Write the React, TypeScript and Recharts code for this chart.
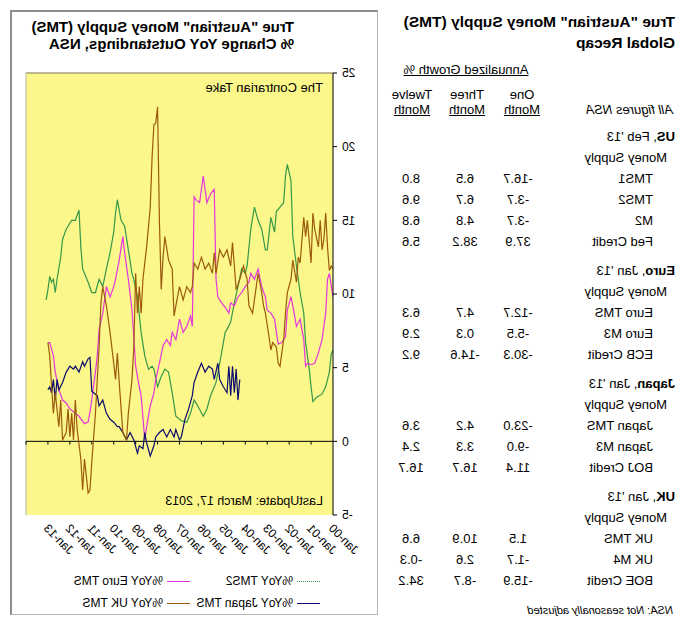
import React from "react";
import { LineChart, Line, XAxis, YAxis, ReferenceLine, CartesianGrid } from "recharts";

const FONT = '"Liberation Sans", Arial, Helvetica, sans-serif';

// ---------- chart data (x = months since Jan-2000) ----------
const yearTicks = [0, 12, 24, 36, 48, 60, 72, 84, 96, 108, 120, 132, 144, 156];
const tickLabels = ["Jan-00", "Jan-01", "Jan-02", "Jan-03", "Jan-04", "Jan-05", "Jan-06", "Jan-07", "Jan-08", "Jan-09", "Jan-10", "Jan-11", "Jan-12", "Jan-13"];
const minorTicks = [12, 24, 36, 48, 60, 72, 84, 96, 108, 120, 132, 144, 156, 168];
const yTicks = [-5, 0, 5, 10, 15, 20, 25];

const usTMS2: [number, number][] = [
  [0, 6.2], [1, 5.9], [2, 4.7], [4, 3.7], [6, 3.2], [9, 3.0], [11, 2.7], [12, 3.7], [13, 4.9], [15, 6.7],
  [16, 8.7], [18, 10.1], [20, 11.9], [22, 13.9], [23, 17.7], [25, 18.8], [26, 18.0], [27, 16.2], [29, 15.9], [31, 15.6],
  [32, 14.2], [34, 15.2], [36, 13.0], [37, 13.0], [39, 14.4], [41, 15.0], [43, 15.9], [45, 14.4], [47, 11.9], [48, 11.4],
  [50, 11.7], [52, 10.5], [54, 9.4], [56, 8.1], [58, 7.6], [59, 7.4], [61, 6.0], [62, 5.3], [64, 4.0], [67, 3.1],
  [69, 2.2], [71, 1.7], [74, 2.4], [76, 2.8], [78, 1.9], [80, 1.3], [83, 1.4], [86, 1.7], [88, 3.3], [90, 4.7],
  [92, 4.9], [94, 4.4], [96, 3.7], [98, 4.9], [99, 5.1], [101, 4.9], [103, 5.8], [105, 7.4], [107, 9.8], [109, 11.0],
  [110, 11.4], [112, 13.0], [114, 14.6], [116, 15.0], [118, 16.4], [119, 15.5], [120, 14.2], [122, 12.8], [124, 11.7], [126, 10.5],
  [128, 11.0], [130, 10.1], [132, 10.1], [134, 10.8], [137, 11.7], [138, 13.2], [139, 15.7], [141, 15.0], [143, 15.0], [144, 14.8],
  [146, 14.4], [148, 13.7], [149, 12.5], [151, 11.0], [152, 10.1], [153, 11.0], [154, 10.8], [155, 11.2], [156, 10.3], [157, 9.6],
];

const euroTMS: [number, number][] = [
  [0, 9.8], [2, 11.4], [3, 11.0], [4, 8.7], [6, 6.9], [8, 6.0], [10, 5.3], [12, 5.2], [14, 5.3], [15, 5.1],
  [16, 6.9], [18, 8.3], [20, 7.8], [22, 9.2], [23, 9.8], [25, 8.9], [26, 7.1], [28, 6.7], [30, 6.6], [32, 8.3],
  [34, 8.7], [36, 8.9], [37, 9.8], [39, 10.5], [41, 11.7], [43, 11.0], [45, 11.4], [46, 10.8], [48, 10.5], [50, 10.1],
  [52, 9.8], [54, 9.2], [56, 9.4], [57, 8.7], [59, 9.1], [61, 9.4], [63, 9.8], [64, 11.0], [65, 17.1], [67, 16.8],
  [69, 16.2], [71, 18.0], [73, 16.2], [75, 16.4], [76, 16.6], [77, 7.8], [78, 8.5], [80, 7.8], [82, 7.4], [84, 8.3],
  [86, 6.9], [88, 7.4], [89, 6.5], [91, 6.9], [93, 6.5], [95, 5.3], [97, 4.2], [98, 3.3], [100, 2.4], [102, 1.0],
  [103, 0.1], [105, 3.1], [106, 3.7], [108, 5.1], [109, 7.1], [110, 8.9], [112, 11.0], [114, 12.8], [115, 13.9], [117, 12.3],
  [119, 11.0], [120, 10.5], [122, 9.8], [124, 10.5], [126, 8.7], [128, 7.6], [129, 5.8], [130, 4.7], [131, 3.8], [132, 2.8],
  [133, 2.0], [134, 1.3], [136, 1.2], [139, 1.7], [141, 1.9], [144, 2.2], [146, 2.6], [148, 2.8], [150, 3.5], [152, 4.7],
  [153, 5.8], [155, 6.7], [156, 6.7],
];

const japanTMS: [number, number][] = [
  [51, 4.2], [52, 2.8], [53, 4.9], [54, 3.3], [55, 5.1], [56, 3.1], [57, 5.1], [58, 3.3], [60, 3.7], [62, 4.2],
  [63, 5.3], [65, 4.2], [66, 4.9], [68, 5.1], [70, 4.7], [72, 5.3], [74, 4.7], [76, 4.0], [77, 3.1], [79, 2.2],
  [81, 1.5], [83, 0.3], [84, 0.1], [86, 0.8], [87, 0.3], [89, 0.8], [91, 0.3], [93, 0.8], [95, 0.6], [97, 0.3],
  [98, -0.3], [100, -1.0], [102, -0.1], [103, 0.6], [104, -0.5], [106, -0.3], [107, -0.8], [109, 0.1], [111, 0.6], [113, 0.1],
  [115, 0.6], [117, 1.0], [118, 1.0], [120, 1.3], [122, 1.5], [124, 1.9], [126, 2.8], [128, 2.4], [129, 3.1], [131, 3.3],
  [132, 3.4], [133, 5.7], [134, 5.6], [136, 5.1], [137, 5.4], [139, 4.7], [141, 5.1], [142, 4.9], [144, 5.1], [146, 4.7],
  [148, 4.0], [150, 3.5], [151, 4.2], [152, 2.8], [153, 4.2], [154, 3.3], [155, 3.7], [156, 3.5],
];

const ukTMS: [number, number][] = [
  [0, 11.7], [1, 11.9], [2, 11.6], [3, 13.2], [4, 15.5], [5, 13.7], [6, 13.0], [7, 15.0], [8, 13.2], [10, 14.4],
  [11, 15.5], [12, 12.1], [14, 15.0], [15, 13.9], [16, 15.2], [18, 12.1], [19, 12.5], [20, 10.8], [22, 12.3], [23, 11.0],
  [25, 10.1], [26, 8.7], [27, 6.9], [29, 5.1], [30, 5.3], [31, 6.4], [33, 6.7], [34, 6.2], [35, 7.1], [37, 8.7],
  [38, 9.2], [39, 10.1], [41, 11.4], [42, 10.5], [44, 8.7], [46, 9.2], [47, 11.0], [49, 11.9], [51, 11.0], [53, 10.3],
  [54, 11.9], [55, 13.5], [56, 11.9], [58, 13.0], [60, 12.5], [62, 13.0], [64, 11.4], [65, 12.8], [66, 11.4], [68, 12.1],
  [70, 11.7], [72, 12.5], [74, 11.7], [76, 12.1], [77, 10.5], [78, 10.1], [80, 10.5], [82, 9.6], [84, 10.5], [86, 9.2],
  [87, 8.5], [88, 11.7], [90, 12.3], [92, 13.9], [93, 12.5], [94, 10.3], [95, 15.0], [96, 22.7], [97, 21.6], [98, 21.5],
  [99, 19.3], [100, 15.9], [102, 13.2], [104, 11.0], [105, 8.7], [106, 10.5], [107, 8.7], [108, 11.4], [109, 6.4], [110, 4.2],
  [112, 1.9], [113, 0.1], [115, 0.6], [117, 4.0], [118, 6.0], [119, 4.2], [120, 5.3], [122, 7.4], [124, 9.2], [126, 10.5],
  [127, 9.4], [128, 6.4], [129, 4.2], [130, 1.9], [132, -1.4], [133, -3.3], [134, -3.5], [136, -1.2], [137, -3.3], [138, -1.2],
  [140, 0.8], [141, 2.8], [142, 0.1], [143, 1.9], [144, 0.3], [145, 2.2], [146, 0.6], [148, 0.1], [149, 2.8], [150, 1.0],
  [152, 3.3], [153, 1.9], [154, 3.7], [155, 5.8], [156, 6.7],
];

const seriesNames = ["%YoY TMS2", "%YoY Euro TMS", "%YoY Japan TMS", "%YoY UK TMS"];
const seriesColors = ["#35984a", "#e436de", "#0a0a6e", "#9c5a0c"];
const seriesData = [usTMS2, euroTMS, japanTMS, ukTMS];

// ---------- table data ----------
const columnHeads = ["One", "Three", "Twelve"];
const regionNames = ["US", "Euro", "Japan", "UK"];
const regionDates = ["Feb '13", "Jan '13", "Jan '13", "Jan '13"];

const usLabels = ["TMS1", "TMS2", "M2", "Fed Credit"];
const usOne = ["-16.7", "-3.7", "-3.7", "37.9"];
const usThree = ["6.5", "6.7", "4.8", "38.2"];
const usTwelve = ["8.0", "9.6", "6.8", "5.6"];

const euroLabels = ["Euro TMS", "Euro M3", "ECB Credit"];
const euroOne = ["-12.7", "-5.5", "-30.3"];
const euroThree = ["4.7", "0.3", "-14.6"];
const euroTwelve = ["6.3", "2.9", "9.2"];

const japanLabels = ["Japan TMS", "Japan M3", "BOJ Credit"];
const japanOne = ["-23.0", "-9.0", "11.4"];
const japanThree = ["4.2", "3.3", "16.7"];
const japanTwelve = ["3.6", "2.4", "16.7"];

const ukLabels = ["UK TMS", "UK M4", "BOE Credit"];
const ukOne = ["1.5", "-1.7", "-15.9"];
const ukThree = ["10.9", "2.6", "-8.7"];
const ukTwelve = ["6.6", "-0.3", "34.2"];

const tableLabels = [usLabels, euroLabels, japanLabels, ukLabels];
const tableOne = [usOne, euroOne, japanOne, ukOne];
const tableThree = [usThree, euroThree, japanThree, ukThree];
const tableTwelve = [usTwelve, euroTwelve, japanTwelve, ukTwelve];

// ---------- helpers ----------
type TxtProps = {
  x: number;
  y: number;
  align?: "left" | "center";
  size?: number;
  bold?: boolean;
  italic?: boolean;
  underline?: boolean;
  children: React.ReactNode;
};

const Txt = ({ x, y, align = "left", size = 13, bold, italic, underline, children }: TxtProps) => {
  const base: React.CSSProperties = {
    position: "absolute",
    top: y - 9,
    height: 18,
    lineHeight: "18px",
    fontSize: size,
    fontWeight: bold ? "bold" : "normal",
    fontStyle: italic ? "italic" : "normal",
    textDecoration: underline ? "underline" : "none",
    whiteSpace: "nowrap",
    color: "#000",
    fontFamily: FONT,
  };
  if (align === "center") {
    return <div style={{ ...base, left: x - 100, width: 200, textAlign: "center" }}>{children}</div>;
  }
  return <div style={{ ...base, left: x }}>{children}</div>;
};

const XTick = (props: any) => {
  const { x, y, payload } = props;
  const i = yearTicks.indexOf(payload.value);
  if (i < 0) return null;
  return (
    <g transform={`translate(${x + 2},${y + 11})`}>
      <text x={0} y={0} dy="0.35em" textAnchor="end" transform="rotate(-45)" fontSize={12} fill="#000" fontFamily={FONT}>
        {tickLabels[i]}
      </text>
    </g>
  );
};

const COLS = [168, 221, 275];

const Table = () => {
  const items: React.ReactNode[] = [];
  let y = 137;
  regionNames.forEach((name, r) => {
    items.push(
      <Txt key={`h${r}`} x={11} y={y}>
        <b>{name}</b>, {regionDates[r]}
      </Txt>
    );
    items.push(<Txt key={`m${r}`} x={19} y={y + 21}>Money Supply</Txt>);
    let ry = y + 42;
    tableLabels[r].forEach((lab, i) => {
      items.push(<Txt key={`l${r}${i}`} x={33} y={ry}>{lab}</Txt>);
      items.push(<Txt key={`a${r}${i}`} x={COLS[0]} y={ry} align="center">{tableOne[r][i]}</Txt>);
      items.push(<Txt key={`b${r}${i}`} x={COLS[1]} y={ry} align="center">{tableThree[r][i]}</Txt>);
      items.push(<Txt key={`c${r}${i}`} x={COLS[2]} y={ry} align="center">{tableTwelve[r][i]}</Txt>);
      ry += 21;
    });
    y = ry - 21 + 29;
  });
  return (
    <>
      <Txt x={11} y={22} size={15.5} bold>True "Austrian" Money Supply (TMS)</Txt>
      <Txt x={11} y={43} size={15.5} bold>Global Recap</Txt>
      <Txt x={220} y={70} align="center" underline>Annualized Growth %</Txt>
      {columnHeads.map((h, i) => (
        <React.Fragment key={h}>
          <Txt x={[164, 219, 274][i]} y={95} align="center">{h}</Txt>
          <Txt x={[164, 219, 274][i]} y={110} align="center" underline>Month</Txt>
        </React.Fragment>
      ))}
      <Txt x={13} y={110} italic>All figures NSA</Txt>
      {items}
      <Txt x={13} y={610} size={11} italic>NSA: Not seasonally adjusted</Txt>
    </>
  );
};

const legendPos = [
  { x: 366, y: 581 },
  { x: 496, y: 581 },
  { x: 366, y: 603 },
  { x: 496, y: 603 },
];

export default function App() {
  return (
    <div
      style={{
        position: "absolute",
        left: 0,
        top: 0,
        width: 686,
        height: 633,
        background: "#fff",
        overflow: "hidden",
        transform: "scaleX(-1)",
        fontFamily: FONT,
      }}
    >
      <Table />

      {/* chart frame */}
      <div
        style={{
          position: "absolute",
          left: 308,
          top: 10,
          width: 368,
          height: 605,
          boxSizing: "border-box",
          borderTop: "2px solid #8d8d8d",
          borderRight: "2px solid #8d8d8d",
          borderBottom: "1px solid #b5b5b5",
          borderLeft: "1px solid #b5b5b5",
        }}
      />
      <Txt x={492} y={27} align="center" size={15} bold>True "Austrian" Money Supply (TMS)</Txt>
      <Txt x={492} y={44} align="center" size={15} bold>% Change YoY Outstandings, NSA</Txt>

      <div style={{ position: "absolute", left: 308, top: 10 }}>
        <LineChart width={368} height={606} margin={{ top: 63, right: 16, bottom: 61, left: 5 }}>
          <CartesianGrid horizontal={false} vertical={false} fill="#fcf78a" stroke="none" />
          <XAxis
            type="number"
            dataKey="m"
            domain={[0, 168]}
            ticks={yearTicks}
            interval={0}
            allowDataOverflow
            axisLine={false}
            tickLine={false}
            tickSize={0}
            tickMargin={0}
            height={40}
            tick={<XTick />}
          />
          <YAxis
            type="number"
            domain={[-5, 25]}
            ticks={yTicks}
            interval={0}
            width={40}
            tickSize={4}
            tickMargin={5}
            axisLine={{ stroke: "#000" }}
            tickLine={{ stroke: "#000" }}
            tick={{ fill: "#000", fontSize: 12, fontFamily: FONT }}
          />
          <ReferenceLine y={25} stroke="#a6a27a" strokeWidth={1.5} />
          <ReferenceLine x={168} stroke="#b4b4a0" />
          <ReferenceLine y={0} stroke="#000" />
          {minorTicks.map((m) => (
            <ReferenceLine
              key={`t${m}`}
              segment={[
                { x: m, y: 0 },
                { x: m, y: -0.22 },
              ]}
              stroke="#000"
            />
          ))}
          {seriesData.map((d, i) => (
            <Line
              key={seriesNames[i]}
              data={d.map(([m, v]) => ({ m, v }))}
              dataKey="v"
              name={seriesNames[i]}
              stroke={seriesColors[i]}
              strokeWidth={1.2}
              dot={false}
              activeDot={false}
              isAnimationActive={false}
              type="linear"
            />
          ))}
        </LineChart>
      </div>

      <Txt x={363} y={88} size={13}>The Contrarian Take</Txt>
      <Txt x={363} y={501} size={12.5}>LastUpdate: March 17, 2013</Txt>

      {seriesNames.map((n, i) => (
        <React.Fragment key={`lg${i}`}>
          <div
            style={{
              position: "absolute",
              left: legendPos[i].x,
              top: legendPos[i].y,
              width: 23,
              height: 0,
              borderTop: `${i === 0 ? "1px dotted" : "1.5px solid"} ${seriesColors[i]}`,
            }}
          />
          <Txt x={legendPos[i].x + 27} y={legendPos[i].y} size={12}>{n}</Txt>
        </React.Fragment>
      ))}
    </div>
  );
}
